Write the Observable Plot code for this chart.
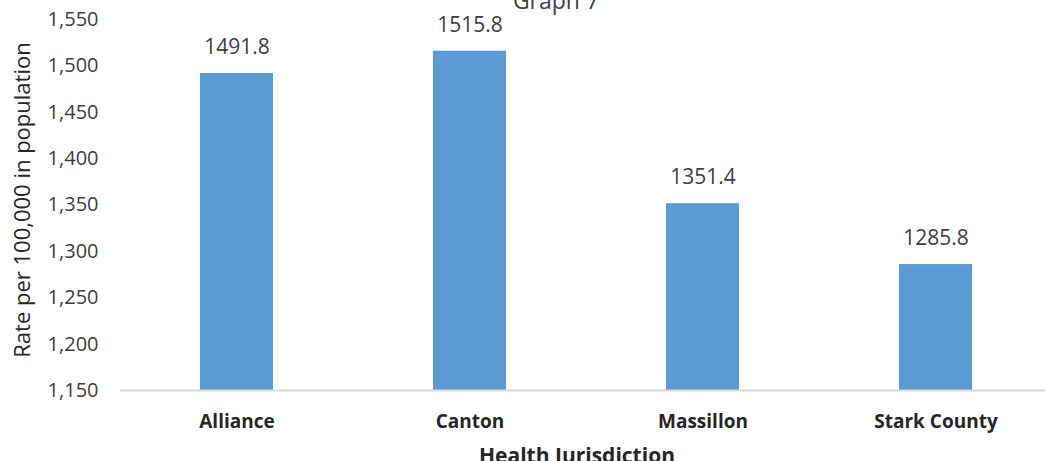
<!DOCTYPE html>
<html>
<head>
<meta charset="utf-8">
<script src="https://cdn.jsdelivr.net/npm/d3@7"></script>
<script src="https://cdn.jsdelivr.net/npm/@observablehq/plot@0.6"></script>
<style>
  html, body { margin: 0; padding: 0; background: #fff; overflow: hidden; }
  svg { display: block; }
</style>
</head>
<body>
<div id="chart"></div>
<script>
const categories = ["Alliance", "Canton", "Massillon", "Stark County"];
const values = [1491.8, 1515.8, 1351.4, 1285.8];
const yTicks = [1150, 1200, 1250, 1300, 1350, 1400, 1450, 1500, 1550];
const yMin = 1150, yMax = 1550;
const title = "Graph 7";
const yLabel = "Rate per 100,000 in population";
const xLabel = "Health Jurisdiction";

const data = categories.map((c, i) => ({cat: c, value: values[i]}));
const font = "Open Sans, Liberation Sans, sans-serif";

const chart = Plot.plot({
  width: 1045,
  height: 461,
  marginTop: 19,
  marginBottom: 71,
  marginLeft: 120,
  marginRight: 0,
  style: {fontFamily: font, fontSize: "17px", color: "#404040", background: "#fff", overflow: "visible"},
  x: {domain: categories, range: [120, 1052], paddingInner: 0.687, paddingOuter: 0.3435},
  y: {domain: [yMin, yMax]},
  marks: [
    Plot.barY(data, {x: "cat", y1: yMin, y2: "value", fill: "#5B9BD5"}),
    Plot.ruleY([yMin], {stroke: "#d9d9d9", strokeWidth: 2}),
    Plot.axisY({ticks: yTicks, tickFormat: d3.format(","), tickSize: 0, tickPadding: 22, label: null, fontSize: 20, fill: "#404040"}),
    Plot.axisX({tickSize: 0, tickPadding: 24, label: null, fontWeight: "bold", fontSize: 19, fill: "#262626"}),
    Plot.text(data, {x: "cat", y: "value", text: d => d.value.toFixed(1), dy: -26, fontSize: 21, fill: "#404040"}),
    Plot.text([yLabel], {frameAnchor: "left", textAnchor: "middle", dx: -98, dy: -5, rotate: -90, fontSize: 22, fill: "#262626"}),
    Plot.text([xLabel], {frameAnchor: "bottom", dx: -6, dy: 72, fontSize: 21, fontWeight: "bold", fill: "#262626"}),
    Plot.text([title], {frameAnchor: "top", dx: -27, dy: -27, fontSize: 23, fill: "#404040"})
  ]
});
document.getElementById("chart").appendChild(chart);
</script>
</body>
</html>
